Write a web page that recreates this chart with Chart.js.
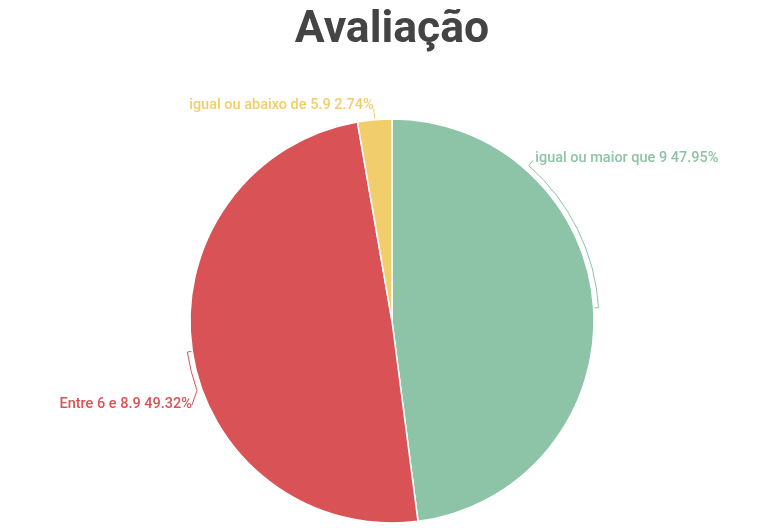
<!DOCTYPE html>
<html><head><meta charset="utf-8">
<script src="https://cdn.jsdelivr.net/npm/chart.js@4/dist/chart.umd.min.js"></script>
<style>html,body{margin:0;padding:0;background:#fff}</style>
</head><body>
<canvas id="c" width="782" height="528"></canvas>
<script>
const titleText = 'Avaliação';
const categories = ['igual ou maior que 9', 'Entre 6 e 8.9', 'igual ou abaixo de 5.9'];
const percentages = [47.95, 49.32, 2.74];
const sliceColors = ['#8dc3a7', '#d95356', '#f1cd6c'];
// label style: bracket arc length (deg), leader tilt (rad), leader reach (px), text baseline shift (px)
const bracketSpans = [45, 11, 0];
const leaderTilt = [0, -0.055, 0];
const leaderReach = [12, 15, 11];
const baselineShift = [2, 3, 0];

const labelPlugin = {
  id: 'arcLabels',
  afterDatasetsDraw(chart) {
    const ctx = chart.ctx;
    const meta = chart.getDatasetMeta(0);
    meta.data.forEach((arc, i) => {
      const { x, y, startAngle, endAngle, outerRadius: r } = arc.getProps(['x','y','startAngle','endAngle','outerRadius'], true);
      const mid = (startAngle + endAngle) / 2;
      const span = bracketSpans[i] * Math.PI / 180;
      const end = mid - span;
      const col = sliceColors[i];
      ctx.save();
      ctx.strokeStyle = col;
      ctx.lineWidth = 1;
      ctx.beginPath();
      let lx, ly;
      ctx.moveTo(x + (r + 1) * Math.cos(mid), y + (r + 1) * Math.sin(mid));
      if (span > 0) {
        const rb = r + 5;
        ctx.lineTo(x + rb * Math.cos(mid), y + rb * Math.sin(mid));
        ctx.arc(x, y, rb, mid, end, true);
      }
      lx = x + (r + leaderReach[i]) * Math.cos(end + leaderTilt[i]);
      ly = y + (r + leaderReach[i]) * Math.sin(end + leaderTilt[i]);
      ctx.lineTo(lx, ly);
      ctx.stroke();
      const right = Math.cos(end) > 0;
      ctx.fillStyle = col;
      ctx.font = '500 14.5px Roboto';
      ctx.textBaseline = 'alphabetic';
      ctx.textAlign = right ? 'left' : 'right';
      const txt = categories[i] + ' ' + percentages[i].toFixed(2) + '%';
      ctx.fillText(txt, right ? lx + 2 : lx, ly + baselineShift[i]);
      ctx.restore();
    });
  }
};

function draw() {
  new Chart(document.getElementById('c'), {
    type: 'pie',
    data: {
      labels: categories,
      datasets: [{
        data: percentages,
        backgroundColor: sliceColors,
        borderColor: '#ffffff',
        borderWidth: 1.5,
        radius: 202
      }]
    },
    options: {
      responsive: false,
      devicePixelRatio: 1,
      animation: false,
      layout: { padding: { left: 2, bottom: 2 } },
      plugins: {
        legend: { display: false },
        tooltip: { enabled: false },
        title: {
          display: true,
          text: titleText,
          color: '#444444',
          font: { family: 'Roboto', size: 44.5, weight: 'bold' },
          padding: { top: 4, bottom: 58.6 }
        }
      }
    },
    plugins: [labelPlugin]
  });
}
Promise.all([
  document.fonts.load('bold 44.5px Roboto'),
  document.fonts.load('500 14.5px Roboto')
]).then(draw, draw);
</script>
</body></html>
